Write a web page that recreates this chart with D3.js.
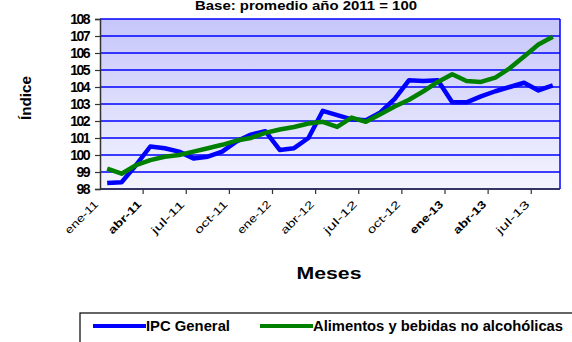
<!DOCTYPE html>
<html><head><meta charset="utf-8">
<script src="https://cdn.jsdelivr.net/npm/d3@7"></script>
<style>body{margin:0;background:#fff}svg{display:block}text{font-family:"Liberation Sans",Arial,sans-serif}</style>
</head><body><div id="c"></div>
<script>
const months = ["ene-11","feb-11","mar-11","abr-11","may-11","jun-11","jul-11","ago-11","sep-11","oct-11","nov-11","dic-11",
"ene-12","feb-12","mar-12","abr-12","may-12","jun-12","jul-12","ago-12","sep-12","oct-12","nov-12","dic-12",
"ene-13","feb-13","mar-13","abr-13","may-13","jun-13","jul-13","ago-13"];
const ipcGeneral = [98.35,98.4,99.4,100.5,100.4,100.2,99.8,99.9,100.2,100.8,101.2,101.4,
100.3,100.4,101.0,102.6,102.35,102.1,102.05,102.5,103.3,104.4,104.35,104.4,
103.1,103.1,103.45,103.75,104.0,104.25,103.8,104.1];
const alimentos = [99.2,98.9,99.4,99.7,99.9,100.0,100.2,100.4,100.6,100.85,101.0,101.3,
101.5,101.65,101.85,101.95,101.65,102.2,101.95,102.4,102.85,103.25,103.75,104.3,
104.75,104.35,104.3,104.55,105.1,105.8,106.5,106.95];
const yTicks = [98,99,100,101,102,103,104,105,106,107,108];
const seriesNames = ["IPC General","Alimentos y bebidas no alcohólicas"];
const seriesColors = ["#0000ff","#008000"];
const titleText = "Base: promedio año 2011 = 100";

const W=572,H=342;
const svg=d3.select("#c").append("svg").attr("width",W).attr("height",H);
const x=d3.scaleBand().domain(months).range([100,560]).padding(0);
const y=d3.scaleLinear().domain([98,108]).range([189,19]);

// title
svg.append("text").attr("x",306).attr("y",10).attr("text-anchor","middle")
  .attr("font-weight","bold").attr("font-size",12).attr("textLength",222).attr("lengthAdjust","spacingAndGlyphs").text(titleText);

// gradient background
const defs=svg.append("defs");
const g=defs.append("linearGradient").attr("id","bg").attr("x1",0).attr("y1",0).attr("x2",0).attr("y2",1);
g.append("stop").attr("offset","0%").attr("stop-color","#c6c6fa");
g.append("stop").attr("offset","100%").attr("stop-color","#f4f4ff");
svg.append("rect").attr("x",100).attr("y",19).attr("width",460).attr("height",170).attr("fill","url(#bg)");

// gridlines
svg.append("g").selectAll("line").data(yTicks).join("line")
  .attr("x1",100).attr("x2",560).attr("y1",d=>y(d)).attr("y2",d=>y(d))
  .attr("stroke","#0000ff").attr("stroke-width",1.6);
svg.append("line").attr("x1",560).attr("x2",560).attr("y1",19).attr("y2",189).attr("stroke","#0000ff").attr("stroke-width",1.5);

// y axis
const ya=svg.append("g").attr("transform","translate(100,0)")
  .call(d3.axisLeft(y).tickValues(yTicks).tickSize(5).tickPadding(6).tickFormat(d3.format("d")));
ya.select(".domain").attr("stroke","#333").attr("stroke-width",1.5);
ya.selectAll(".tick line").attr("stroke","#333").attr("stroke-width",1.2);
ya.selectAll(".tick text").attr("font-size",14).attr("font-weight","bold").attr("fill","#000")
  .attr("letter-spacing","-1.5").attr("font-family","'Liberation Sans Narrow','Liberation Sans',Arial");

// x axis
const bw=x.bandwidth();
const tickIdx=months.map((m,i)=>i).filter(i=>i%3===0);
svg.append("line").attr("x1",100).attr("x2",560).attr("y1",189).attr("y2",189).attr("stroke","#333").attr("stroke-width",1.5);
svg.append("g").selectAll("line").data(tickIdx.filter(i=>i>0)).join("line")
  .attr("x1",i=>x(months[i])).attr("x2",i=>x(months[i])).attr("y1",189).attr("y2",194)
  .attr("stroke","#333").attr("stroke-width",1.2);
svg.append("g").selectAll("text").data(tickIdx).join("text")
  .attr("transform",i=>`translate(${x(months[i])-1},205) rotate(-45)`)
  .attr("text-anchor","end").attr("font-size",11).attr("fill","#000")
  .attr("font-weight",(i,k)=>[1,8,9].includes(k)?"bold":"normal")
  .attr("textLength",42).attr("lengthAdjust","spacingAndGlyphs")
  .text(i=>months[i]);

// axis titles
svg.append("text").attr("transform","translate(31,98) rotate(-90)").attr("text-anchor","middle")
  .attr("font-weight","bold").attr("font-size",15).attr("textLength",44).attr("lengthAdjust","spacingAndGlyphs").text("Índice");
svg.append("text").attr("x",329).attr("y",279).attr("text-anchor","middle")
  .attr("font-weight","bold").attr("font-size",17).attr("textLength",65).attr("lengthAdjust","spacingAndGlyphs").text("Meses");

// lines
const line=d3.line().x((d,i)=>x(months[i])+bw/2).y(d=>y(d));
[ipcGeneral,alimentos].forEach((s,k)=>{
  svg.append("path").datum(s).attr("d",line).attr("fill","none")
    .attr("stroke",seriesColors[k]).attr("stroke-width",4.5).attr("stroke-linejoin","round");
});

// legend
svg.append("rect").attr("x",80).attr("y",313).attr("width",510).attr("height",50)
  .attr("fill","#fff").attr("stroke","#000").attr("stroke-width",1.2);
const leg=[{x1:93,x2:146,tx:146,tw:84},{x1:260,x2:313,tx:313,tw:250}];
leg.forEach((l,k)=>{
  svg.append("line").attr("x1",l.x1).attr("x2",l.x2).attr("y1",326).attr("y2",326)
    .attr("stroke",seriesColors[k]).attr("stroke-width",4);
  svg.append("text").attr("x",l.tx).attr("y",331).attr("font-weight","bold").attr("font-size",14)
    .attr("textLength",l.tw).attr("lengthAdjust","spacingAndGlyphs").text(seriesNames[k]);
});
</script></body></html>
